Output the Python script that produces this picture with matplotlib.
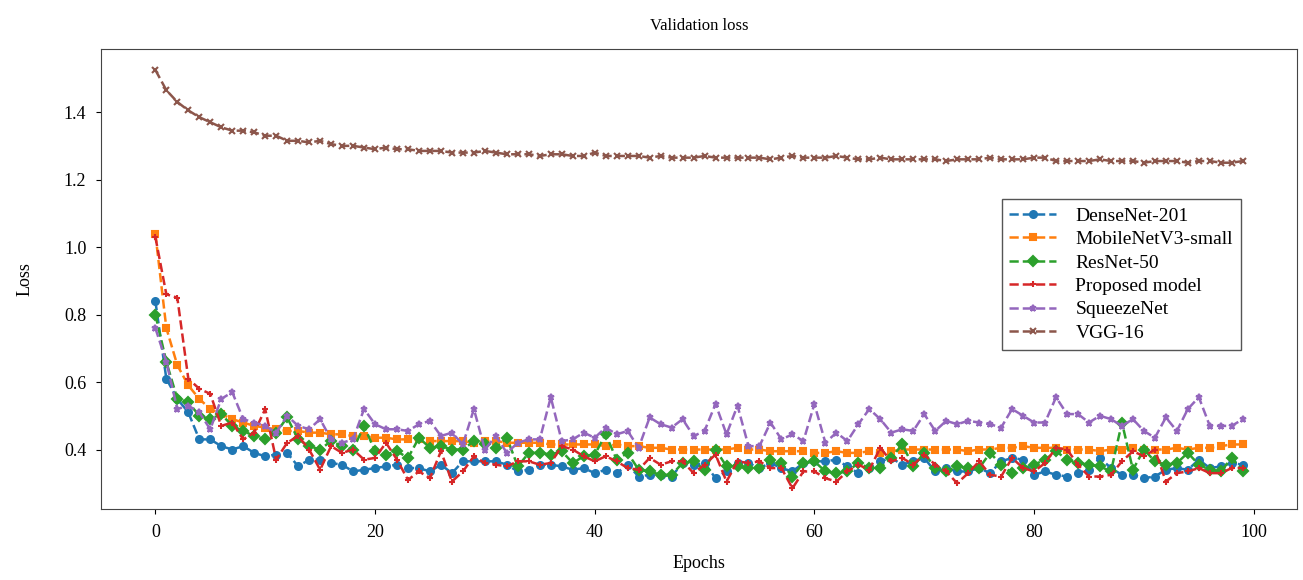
import numpy as np
import matplotlib
matplotlib.use("Agg")
import matplotlib.pyplot as plt

plt.rcParams['font.family'] = ['Liberation Serif', 'DejaVu Serif']

epochs = np.arange(100)

densenet = [0.84, 0.61, 0.55, 0.51, 0.43, 0.43, 0.41, 0.40, 0.41, 0.39,
            0.38, 0.385, 0.39, 0.35, 0.37, 0.37, 0.36, 0.355, 0.335, 0.34,
            0.345, 0.35, 0.355, 0.345, 0.345, 0.335, 0.355, 0.33, 0.365, 0.365,
            0.365, 0.365, 0.355, 0.335, 0.34, 0.355, 0.355, 0.35, 0.34, 0.345,
            0.33, 0.34, 0.33, 0.355, 0.32, 0.325, 0.325, 0.32, 0.36, 0.355,
            0.36, 0.315, 0.335, 0.36, 0.36, 0.345, 0.36, 0.345, 0.335, 0.36,
            0.365, 0.365, 0.37, 0.35, 0.33, 0.345, 0.365, 0.375, 0.355, 0.365,
            0.375, 0.335, 0.345, 0.335, 0.335, 0.345, 0.33, 0.365, 0.375, 0.37,
            0.325, 0.335, 0.325, 0.32, 0.33, 0.34, 0.375, 0.345, 0.325, 0.325,
            0.315, 0.32, 0.34, 0.345, 0.34, 0.37, 0.345, 0.35, 0.36, 0.355]

mobilenet = [1.04, 0.76, 0.65, 0.59, 0.55, 0.52, 0.505, 0.49, 0.48, 0.47,
             0.465, 0.46, 0.455, 0.455, 0.45, 0.45, 0.445, 0.445, 0.44, 0.44,
             0.435, 0.435, 0.43, 0.43, 0.43, 0.425, 0.425, 0.425, 0.425, 0.42,
             0.425, 0.425, 0.42, 0.42, 0.42, 0.42, 0.415, 0.415, 0.415, 0.415,
             0.415, 0.41, 0.415, 0.41, 0.41, 0.405, 0.405, 0.40, 0.40, 0.40,
             0.40, 0.40, 0.40, 0.405, 0.40, 0.40, 0.395, 0.395, 0.395, 0.395,
             0.39, 0.39, 0.395, 0.39, 0.39, 0.395, 0.39, 0.395, 0.40, 0.40,
             0.40, 0.40, 0.40, 0.40, 0.395, 0.40, 0.40, 0.405, 0.405, 0.41,
             0.405, 0.405, 0.405, 0.40, 0.40, 0.40, 0.395, 0.40, 0.40, 0.405,
             0.40, 0.40, 0.40, 0.405, 0.40, 0.405, 0.405, 0.41, 0.415, 0.415]

resnet = [0.80, 0.66, 0.55, 0.54, 0.50, 0.49, 0.505, 0.47, 0.455, 0.44,
          0.43, 0.45, 0.495, 0.43, 0.41, 0.40, 0.425, 0.41, 0.40, 0.47,
          0.395, 0.385, 0.395, 0.375, 0.435, 0.405, 0.41, 0.40, 0.40, 0.425,
          0.415, 0.405, 0.435, 0.35, 0.39, 0.39, 0.385, 0.395, 0.36, 0.38,
          0.385, 0.445, 0.37, 0.39, 0.34, 0.335, 0.325, 0.325, 0.36, 0.365,
          0.34, 0.40, 0.35, 0.35, 0.345, 0.345, 0.37, 0.36, 0.32, 0.36,
          0.365, 0.335, 0.33, 0.335, 0.36, 0.345, 0.345, 0.375, 0.415, 0.35,
          0.39, 0.345, 0.335, 0.35, 0.345, 0.345, 0.39, 0.355, 0.33, 0.345,
          0.355, 0.37, 0.395, 0.37, 0.36, 0.355, 0.35, 0.335, 0.48, 0.34,
          0.40, 0.365, 0.355, 0.36, 0.39, 0.355, 0.34, 0.335, 0.375, 0.335]

proposed = [1.03, 0.86, 0.85, 0.61, 0.58, 0.565, 0.47, 0.48, 0.43, 0.45,
            0.52, 0.37, 0.42, 0.44, 0.40, 0.34, 0.41, 0.39, 0.40, 0.37,
            0.375, 0.42, 0.37, 0.31, 0.335, 0.315, 0.395, 0.305, 0.335, 0.38,
            0.36, 0.355, 0.35, 0.365, 0.365, 0.355, 0.36, 0.41, 0.40, 0.38,
            0.365, 0.38, 0.365, 0.345, 0.34, 0.375, 0.355, 0.365, 0.365, 0.33,
            0.355, 0.385, 0.305, 0.365, 0.36, 0.365, 0.345, 0.345, 0.285, 0.335,
            0.335, 0.315, 0.305, 0.335, 0.355, 0.34, 0.405, 0.365, 0.375, 0.355,
            0.385, 0.355, 0.335, 0.30, 0.33, 0.365, 0.325, 0.32, 0.375, 0.345,
            0.335, 0.36, 0.405, 0.40, 0.355, 0.32, 0.32, 0.325, 0.365, 0.395,
            0.38, 0.40, 0.305, 0.33, 0.335, 0.345, 0.33, 0.33, 0.345, 0.345]

squeezenet = [0.76, 0.66, 0.52, 0.53, 0.51, 0.46, 0.55, 0.57, 0.49, 0.48,
              0.47, 0.45, 0.50, 0.47, 0.46, 0.49, 0.43, 0.42, 0.43, 0.52,
              0.475, 0.46, 0.46, 0.455, 0.475, 0.485, 0.44, 0.45, 0.415, 0.52,
              0.40, 0.44, 0.39, 0.42, 0.43, 0.43, 0.555, 0.425, 0.43, 0.45,
              0.435, 0.465, 0.445, 0.455, 0.405, 0.495, 0.475, 0.465, 0.49, 0.44,
              0.455, 0.535, 0.445, 0.53, 0.41, 0.41, 0.48, 0.43, 0.445, 0.425,
              0.535, 0.42, 0.45, 0.425, 0.475, 0.52, 0.49, 0.45, 0.46, 0.455,
              0.505, 0.455, 0.485, 0.475, 0.485, 0.48, 0.475, 0.465, 0.52, 0.50,
              0.48, 0.48, 0.555, 0.505, 0.505, 0.48, 0.50, 0.49, 0.47, 0.49,
              0.455, 0.435, 0.495, 0.455, 0.52, 0.555, 0.47, 0.47, 0.47, 0.49]

vgg16 = [1.525, 1.465, 1.43, 1.405, 1.385, 1.37, 1.355, 1.345, 1.345, 1.34,
         1.33, 1.33, 1.315, 1.315, 1.31, 1.315, 1.305, 1.30, 1.30, 1.295,
         1.29, 1.295, 1.29, 1.29, 1.285, 1.285, 1.285, 1.28, 1.28, 1.28,
         1.285, 1.28, 1.275, 1.275, 1.275, 1.27, 1.275, 1.275, 1.27, 1.27,
         1.28, 1.27, 1.27, 1.27, 1.27, 1.265, 1.27, 1.265, 1.265, 1.265,
         1.27, 1.265, 1.265, 1.265, 1.265, 1.265, 1.26, 1.265, 1.27, 1.265,
         1.265, 1.265, 1.27, 1.265, 1.26, 1.26, 1.265, 1.26, 1.26, 1.26,
         1.26, 1.26, 1.255, 1.26, 1.26, 1.26, 1.265, 1.26, 1.26, 1.26,
         1.265, 1.265, 1.255, 1.255, 1.255, 1.255, 1.26, 1.255, 1.255, 1.255,
         1.25, 1.255, 1.255, 1.255, 1.25, 1.255, 1.255, 1.25, 1.25, 1.255]

series = [
    ("DenseNet-201", densenet, 'o', 'C0'),
    ("MobileNetV3-small", mobilenet, 's', 'C1'),
    ("ResNet-50", resnet, 'D', 'C2'),
    ("Proposed model", proposed, '+', 'C3'),
    ("SqueezeNet", squeezenet, '*', 'C4'),
    ("VGG-16", vgg16, 'x', 'C5'),
]

fig = plt.figure(figsize=(13.03, 5.8), dpi=100)
ax = fig.add_axes([0.0775, 0.122, 0.918, 0.7935])

for label, vals, mk, col in series:
    ax.plot(epochs, vals, linestyle='--', marker=mk, color=col, label=label,
            linewidth=1.8, markersize=5, markeredgewidth=1.5)

ax.set_title("Validation loss", fontsize=12, pad=14)
ax.set_xlabel("Epochs", fontsize=13, labelpad=10)
ax.set_ylabel("Loss", fontsize=13, labelpad=22)
ax.tick_params(labelsize=13, pad=7)
ax.set_xticks([0, 20, 40, 60, 80, 100])
ax.set_yticks([0.4, 0.6, 0.8, 1.0, 1.2, 1.4])
for s in ax.spines.values():
    s.set_color('#444444')

leg = ax.legend(loc='center right', bbox_to_anchor=(0.961, 0.51), fontsize=14,
                fancybox=False, edgecolor='#555555', framealpha=1,
                handlelength=2.4, handletextpad=1.0, labelspacing=0.3)
leg.get_frame().set_linewidth(1.0)

fig.savefig("out.png", dpi=100)
